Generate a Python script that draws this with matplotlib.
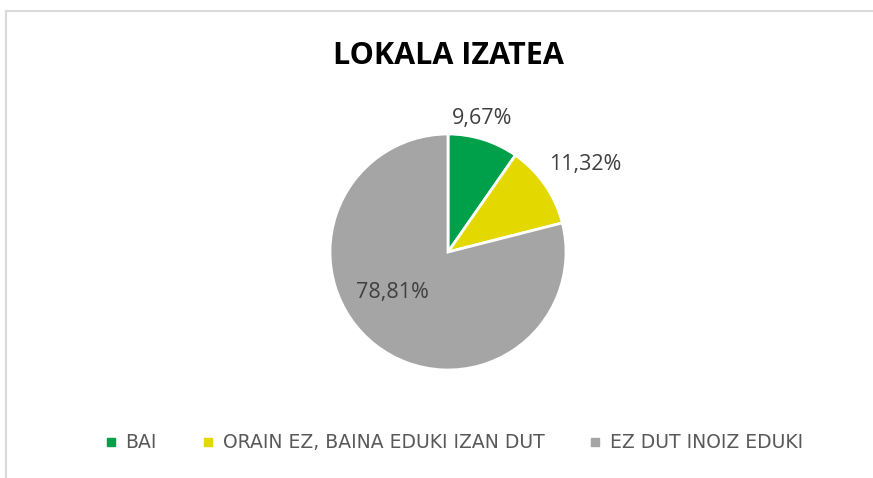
import numpy as np
import matplotlib.pyplot as plt
from matplotlib.lines import Line2D

# Data
categories = ['BAI', 'ORAIN EZ, BAINA EDUKI IZAN DUT', 'EZ DUT INOIZ EDUKI']
values = [9.67, 11.32, 78.81]
labels = ['9,67%', '11,32%', '78,81%']
colors = ['#00A04A', '#E3D800', '#A5A5A5']

plt.rcParams['font.family'] = ['DejaVu Sans']

W, H = 873, 478
fig = plt.figure(figsize=(W / 100, H / 100), dpi=100)

# Chart frame (partially visible in the screenshot)
fig.add_artist(Line2D([5.5 / W, 5.5 / W], [0, 1 - 11 / H], color='#D9D9D9', lw=1.5))
fig.add_artist(Line2D([5.5 / W, 1], [1 - 11 / H, 1 - 11 / H], color='#D9D9D9', lw=1.5))

# Pie axes placed around center (448, 252) with radius 118 px
cx, cy, r = 448, 252, 118
ax = fig.add_axes([(cx - r) / W, (H - cy - r) / H, 2 * r / W, 2 * r / H])
wedges, _ = ax.pie(values, colors=colors, startangle=90, counterclock=False,
                   wedgeprops=dict(edgecolor='white', linewidth=2))
ax.set_xlim(-1, 1)
ax.set_ylim(-1, 1)
ax.set_aspect('equal')

# Data labels: distance from centre and angle offset per slice
label_dist = [1.17, 1.38, 0.58]
label_shift = [3, -2, -16]
for w, lab, d, s in zip(wedges, labels, label_dist, label_shift):
    ang = np.deg2rad((w.theta1 + w.theta2) / 2 + s)
    ax.text(d * np.cos(ang), d * np.sin(ang), lab, ha='center', va='center',
            fontsize=15.5, color='#404040', family=['Open Sans', 'DejaVu Sans'])

# Title
fig.text(cx / W, 1 - 56 / H, 'LOKALA IZATEA', ha='center', va='center',
         fontsize=22, fontweight='bold', color='black',
         family=['Open Sans', 'DejaVu Sans'])

# Legend
handles = [Line2D([], [], marker='s', linestyle='none', markersize=6,
                  markerfacecolor=c, markeredgecolor=c) for c in colors]
fig.legend(handles, categories, loc='center', bbox_to_anchor=(454 / W, 1 - 443 / H),
           ncol=3, frameon=False, fontsize=13.5, handlelength=0.6,
           handletextpad=0.5, columnspacing=2.4, labelcolor='#595959')

fig.savefig('out.png', dpi=100)
